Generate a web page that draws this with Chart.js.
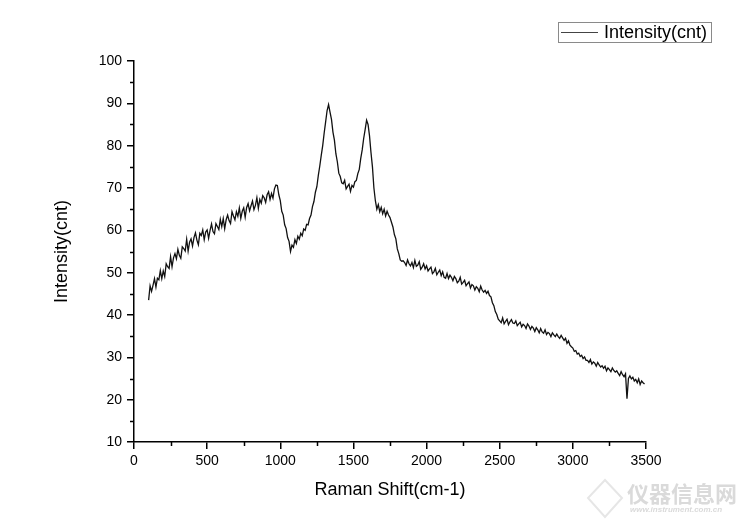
<!DOCTYPE html>
<html>
<head>
<meta charset="utf-8">
<script src="https://cdn.jsdelivr.net/npm/chart.js@4.4.1/dist/chart.umd.min.js"></script>
<style>html,body{margin:0;background:#fff}</style>
</head>
<body>
<canvas id="c" width="750" height="530"></canvas>
<script>
// Raman spectrum, one sample every 10 cm-1 starting at 100 cm-1
const shiftStart = 100;
const shiftStep = 10;
const intensity = [
  43.5, 46.9, 45.6, 47.0, 48.6, 46.6, 48.7, 48.3, 50.5, 48.6,
  50.4, 49.1, 52.1, 51.4, 51.0, 53.8, 51.4, 53.5, 54.5, 53.3,
  55.5, 54.1, 53.4, 56.1, 55.7, 55.1, 57.9, 55.1, 57.2, 58.0,
  56.3, 58.3, 59.4, 57.7, 56.6, 59.3, 58.8, 60.1, 57.8, 59.6,
  60.1, 58.1, 60.0, 61.5, 59.7, 59.2, 61.6, 60.9, 60.2, 62.6,
  60.9, 62.8, 60.4, 62.5, 63.6, 62.3, 61.6, 64.4, 63.4, 62.5,
  64.4, 63.3, 65.3, 62.8, 64.5, 65.3, 63.1, 65.4, 66.3, 64.6,
  65.8, 66.9, 64.9, 65.9, 67.7, 65.2, 67.3, 66.4, 68.2, 67.7,
  66.6, 68.4, 69.1, 67.3, 68.7, 67.6, 69.8, 70.7, 70.6, 68.4,
  67.0, 64.5, 63.6, 61.3, 60.4, 58.3, 57.4, 55.0, 56.5, 56.0,
  57.8, 56.9, 58.6, 57.9, 59.3, 58.7, 60.3, 60.0, 61.4, 61.3,
  62.8, 63.6, 65.6, 66.8, 69.0, 70.3, 73.0, 75.2, 77.7, 80.0,
  83.0, 85.6, 88.3, 89.7, 87.9, 86.2, 83.2, 81.3, 78.1, 76.2,
  73.5, 72.7, 71.2, 71.0, 71.8, 69.8, 70.4, 70.9, 69.2, 70.6,
  70.2, 71.5, 71.8, 73.4, 74.4, 77.0, 79.0, 81.7, 83.8, 86.0,
  85.0, 82.3, 78.4, 75.0, 70.0, 67.0, 65.0, 66.1, 64.4, 65.4,
  63.9, 65.0, 63.4, 64.5, 63.6, 63.0, 61.9, 60.8, 59.0, 58.0,
  55.6, 54.5, 53.0, 52.7, 52.8, 52.4, 51.7, 53.0, 52.1, 51.6,
  52.4, 51.2, 52.9, 51.5, 51.8, 52.6, 50.8, 51.3, 52.1, 50.9,
  51.6, 50.4, 50.9, 51.3, 49.8, 50.2, 51.0, 49.5, 50.1, 50.6,
  49.3, 50.2, 48.9, 48.7, 49.8, 48.6, 49.4, 48.9, 48.1, 49.1,
  48.6, 47.6, 48.0, 48.9, 47.3, 47.7, 48.2, 46.9, 47.4, 47.8,
  46.4, 47.2, 46.9, 45.9, 46.7, 46.3, 45.5, 46.8, 45.9, 45.4,
  45.8, 45.1, 45.6, 44.6, 44.3, 42.9, 42.2, 40.8, 40.1, 39.0,
  38.6, 38.2, 39.3, 37.9, 38.5, 39.0, 37.7, 38.4, 38.9, 38.1,
  38.0, 38.6, 37.5, 37.9, 38.3, 37.2, 37.8, 37.5, 36.8, 37.9,
  37.4, 36.6, 37.3, 36.9, 36.1, 37.0, 36.5, 35.8, 36.8, 36.0,
  35.7, 36.5, 35.4, 35.9, 35.6, 34.9, 35.8, 35.3, 34.9, 35.5,
  34.9, 34.5, 35.2, 34.6, 34.0, 34.5, 33.3, 33.9, 32.9, 32.5,
  32.2, 31.4, 31.6, 30.8, 31.0, 30.2, 30.5, 29.7, 30.1, 29.3,
  29.3, 28.8, 29.5, 28.4, 28.9, 28.6, 27.9, 28.8, 28.2, 27.7,
  28.0, 27.4, 27.9, 26.8, 27.5, 27.1, 26.6, 27.5, 26.9, 26.5,
  26.8, 26.2, 25.7, 26.6, 25.9, 25.4, 26.1, 20.2, 25.0, 25.6,
  24.9, 25.3, 24.4, 24.8, 24.0, 24.9, 23.6, 24.4, 24.0, 23.7
];
const xMinorTicks = [250, 750, 1250, 1750, 2250, 2750, 3250];
const yMinorTicks = [15, 25, 35, 45, 55, 65, 75, 85, 95];

const points = intensity.map((v, i) => ({ x: shiftStart + i * shiftStep, y: v }));
const FONT = '"Liberation Sans", Arial, sans-serif';

const extras = {
  id: 'extras',
  afterDraw(chart) {
    const { ctx, chartArea, scales: { x, y } } = chart;
    ctx.save();
    // minor ticks
    ctx.strokeStyle = '#000';
    ctx.lineWidth = 1.5;
    ctx.beginPath();
    xMinorTicks.forEach(v => {
      const px = Math.round(x.getPixelForValue(v)) + 0.5;
      ctx.moveTo(px, chartArea.bottom);
      ctx.lineTo(px, chartArea.bottom + 4);
    });
    yMinorTicks.forEach(v => {
      const py = Math.round(y.getPixelForValue(v)) + 0.5;
      ctx.moveTo(chartArea.left, py);
      ctx.lineTo(chartArea.left - 4, py);
    });
    ctx.stroke();

    // legend box
    ctx.strokeStyle = '#8a8a8a';
    ctx.lineWidth = 1;
    ctx.strokeRect(558.5, 22.5, 153, 20);
    ctx.strokeStyle = '#444';
    ctx.beginPath();
    ctx.moveTo(561, 32.5);
    ctx.lineTo(598, 32.5);
    ctx.stroke();
    ctx.fillStyle = '#000';
    ctx.font = '18px ' + FONT;
    ctx.textBaseline = 'middle';
    ctx.textAlign = 'left';
    ctx.fillText(chart.data.datasets[0].label, 604, 33);

    // faint site watermark
    ctx.fillStyle = '#dadada';
    ctx.strokeStyle = '#e6e6e6';
    ctx.lineWidth = 2;
    ctx.beginPath();
    ctx.moveTo(605, 480); ctx.lineTo(622, 498); ctx.lineTo(605, 517); ctx.lineTo(588, 498); ctx.closePath();
    ctx.stroke();
    ctx.font = 'bold 22px "Noto Sans CJK SC", sans-serif';
    ctx.textBaseline = 'middle';
    ctx.fillText('仪器信息网', 627, 494);
    ctx.font = 'italic bold 8px ' + FONT;
    ctx.fillText('www.instrument.com.cn', 630, 510);
    ctx.restore();
  }
};

new Chart(document.getElementById('c'), {
  type: 'line',
  data: {
    datasets: [{
      label: 'Intensity(cnt)',
      data: points,
      borderColor: '#111',
      borderWidth: 1.3,
      pointRadius: 0,
      tension: 0
    }]
  },
  options: {
    responsive: false,
    animation: false,
    devicePixelRatio: 1,
    layout: { padding: { left: 0, right: 104, top: 61, bottom: 0 } },
    plugins: { legend: { display: false }, tooltip: { enabled: false } },
    scales: {
      x: {
        type: 'linear',
        min: 0,
        max: 3500,
        afterFit: s => { s.height = 88; },
        border: { display: true, color: '#000', width: 1.5 },
        grid: { display: true, drawOnChartArea: false, drawTicks: true, tickLength: 7, color: '#000', lineWidth: 1.5 },
        ticks: { stepSize: 500, color: '#000', padding: 4, maxRotation: 0, font: { family: FONT, size: 14 }, callback: v => String(v) },
        title: { display: true, text: 'Raman Shift(cm-1)', color: '#000', font: { family: FONT, size: 18 }, padding: { top: 0, bottom: 29 } }
      },
      y: {
        min: 10,
        max: 100,
        afterFit: s => { s.width = 134; },
        border: { display: true, color: '#000', width: 1.5 },
        grid: { display: true, drawOnChartArea: false, drawTicks: true, tickLength: 7, color: '#000', lineWidth: 1.5 },
        ticks: { stepSize: 10, color: '#000', padding: 5, font: { family: FONT, size: 14 }, callback: v => String(v) },
        title: { display: true, text: 'Intensity(cnt)', color: '#000', font: { family: FONT, size: 18 }, padding: { top: 51, bottom: 0 } }
      }
    }
  },
  plugins: [extras]
});
</script>
</body>
</html>
